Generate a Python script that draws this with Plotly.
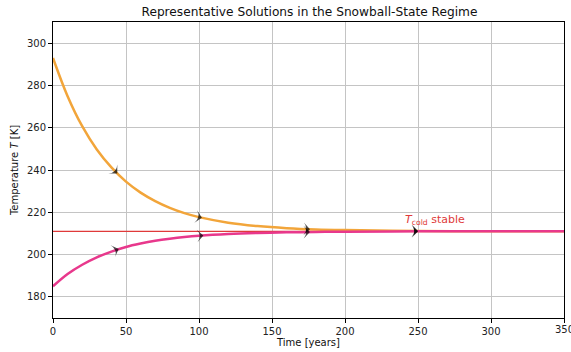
import plotly.graph_objects as go

# Time samples (years)
t = [0, 10, 20, 30, 40, 50, 60, 70, 80, 90, 100, 120, 140, 160, 180, 200, 250, 300, 350]
# Warm initial condition (orange) and cold initial condition (pink)
T_warm = [293.0, 274.9, 260.7, 249.7, 241.2, 234.5, 229.3, 225.3, 222.1, 219.6, 217.7,
          215.1, 213.5, 212.5, 211.9, 211.6, 211.2, 211.0, 211.0]
T_cold_ic = [185.0, 190.8, 195.2, 198.7, 201.4, 203.6, 205.2, 206.5, 207.5, 208.3, 208.9,
             209.7, 210.2, 210.5, 210.7, 210.8, 211.0, 211.0, 211.0]

# Stable cold equilibrium
T_cold = 211.0
eq_x = [0, 350]

# Direction arrows: (previous point, arrow point) pairs
arr_warm_t = [42, 44, 100, 102, 174, 176, 248, 250]
arr_warm_T = [239.7, 238.3, 217.7, 217.4, 212.06, 212.0, 211.17, 211.15]
arr_cold_t = [43, 45, 101, 103, 174, 176, 248, 250]
arr_cold_T = [202.1, 202.6, 208.9, 209.0, 210.66, 210.68, 210.95, 210.96]

x_ticks = [0, 50, 100, 150, 200, 250, 300, 350]
y_ticks = [180, 200, 220, 240, 260, 280, 300]

ORANGE = "#f2a53a"
PINK = "#e8388c"
RED = "#e03a3a"
FONT = "DejaVu Sans"

fig = go.Figure()
fig.add_trace(go.Scatter(x=eq_x, y=[T_cold] * len(eq_x), mode="lines",
                         line=dict(color=RED, width=1.2), hoverinfo="skip"))
fig.add_trace(go.Scatter(x=t, y=T_warm, mode="lines", line=dict(color=ORANGE, width=2.5, shape="spline")))
fig.add_trace(go.Scatter(x=t, y=T_cold_ic, mode="lines", line=dict(color=PINK, width=2.5, shape="spline")))

sizes = [0, 9] * 4
for xs, ys in [(arr_warm_t, arr_warm_T), (arr_cold_t, arr_cold_T)]:
    fig.add_trace(go.Scatter(x=xs, y=ys, mode="markers",
                             marker=dict(symbol="arrow-wide", size=sizes, color="black",
                                         angleref="previous", angle=0,
                                         line=dict(width=0))))

fig.add_annotation(x=240, y=T_cold + 0.9, xanchor="left", yanchor="bottom",
                   text="<i>T</i><sub>cold</sub> stable", showarrow=False,
                   font=dict(family=FONT, size=11, color=RED))

# last x tick label (plotly drops it because it overflows the page edge, as in the original it is clipped)
fig.add_annotation(x=x_ticks[-1], xref="x", y=0, yref="paper", xanchor="center", yanchor="top",
                   yshift=-4, text=str(x_ticks[-1]), showarrow=False,
                   font=dict(family=FONT, size=10, color="#222"))

axis_common = dict(showline=True, linecolor="black", linewidth=1, mirror=True,
                   ticks="outside", ticklen=4, tickcolor="black", automargin=False,
                   showgrid=True, gridcolor="#c4c4c4", gridwidth=1, zeroline=False,
                   tickfont=dict(family=FONT, size=10, color="#222"))

fig.update_layout(
    width=571, height=352,
    margin=dict(l=53, r=7, t=22, b=34),
    paper_bgcolor="white", plot_bgcolor="white",
    showlegend=False,
    title=dict(text="Representative Solutions in the Snowball-State Regime",
               x=0.542, xanchor="center", yref="container", y=0.966, yanchor="middle",
               font=dict(family=FONT, size=12.2, color="#111")),
    xaxis=dict(range=[0, 350], tickvals=x_ticks,
               title=dict(text="Time [years]", standoff=2, font=dict(family=FONT, size=10, color="#111")),
               **axis_common),
    yaxis=dict(range=[170, 310], tickvals=y_ticks,
               title=dict(text="Temperature <i>T</i> [K]", standoff=6, font=dict(family=FONT, size=10, color="#111")),
               **axis_common),
)

fig.write_html("out.html", config={"displayModeBar": False},
               post_script="document.body.style.margin='0';document.body.style.overflow='hidden';")
